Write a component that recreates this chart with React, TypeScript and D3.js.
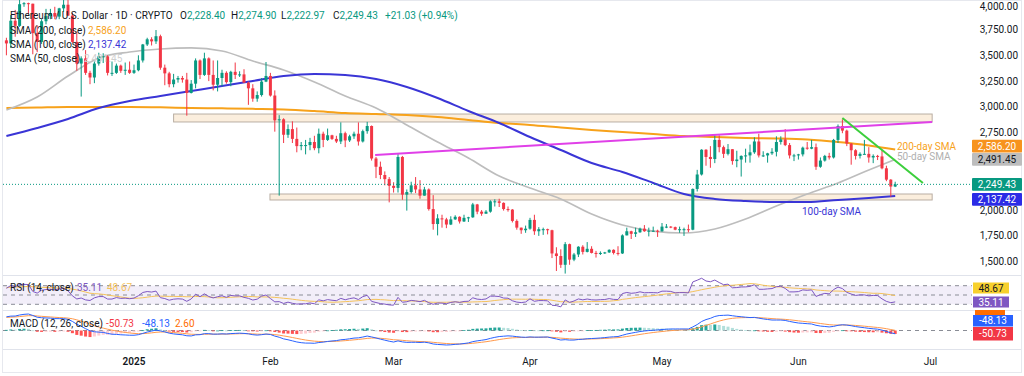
import React from 'react';
import * as d3 from 'd3';

// ---------- DATA ----------
const START = Date.UTC(2024, 11, 3); // first candle: 3 Dec 2024
const DAY = 86400000;

// [open, high, low, close]
const dec2024 = [
  [3645,3670,3500,3615],[3615,3890,3570,3835],[3835,3940,3680,3785],[3785,4085,3775,3995],
  [3995,4015,3970,4005],[4005,4010,3900,4000],[4000,4000,3510,3715],[3715,3790,3530,3630],
  [3630,3850,3610,3830],[3830,3950,3800,3880],[3880,3950,3850,3910],[3910,3970,3850,3875],
  [3875,3960,3850,3955],[3955,4100,3920,3990],[3990,4110,3880,3885],[3885,3910,3620,3630],
  [3630,3730,3350,3420],[3420,3490,3100,3470],[3470,3550,3310,3330],[3330,3350,3220,3285],
  [3285,3440,3230,3420],[3420,3525,3400,3490],[3490,3520,3425,3490],[3490,3500,3305,3330],
  [3330,3440,3300,3330],[3330,3420,3320,3400],[3400,3410,3330,3350],[3350,3430,3310,3360],
  [3360,3440,3320,3330],
];
const jan2025 = [
  [3330,3410,3320,3355],[3355,3500,3345,3450],[3450,3610,3430,3605],[3605,3670,3590,3655],
  [3655,3675,3595,3635],[3635,3745,3610,3685],[3685,3700,3360,3380],[3380,3410,3210,3325],
  [3325,3340,3190,3220],[3220,3320,3190,3265],[3265,3300,3235,3280],[3280,3300,3235,3265],
  [3265,3330,2915,3135],[3135,3260,3130,3225],[3225,3470,3180,3450],[3450,3460,3270,3310],
  [3310,3525,3300,3470],[3470,3480,3250,3310],[3310,3450,3160,3215],[3215,3450,3150,3280],
  [3280,3360,3200,3330],[3330,3345,3225,3240],[3240,3350,3200,3340],[3340,3430,3270,3310],
  [3310,3345,3290,3315],[3315,3365,3235,3235],[3235,3245,3020,3180],[3180,3220,3050,3080],
  [3080,3150,3050,3115],[3115,3280,3100,3245],[3245,3435,3240,3300],
];
const feb2025 = [
  [3300,3330,3100,3110],[3110,3160,2760,2870],[2870,2920,2140,2880],[2880,2890,2650,2730],
  [2730,2830,2700,2785],[2785,2860,2650,2690],[2690,2800,2560,2620],[2620,2660,2580,2630],
  [2630,2680,2540,2630],[2630,2700,2580,2660],[2660,2720,2580,2600],[2600,2790,2550,2740],
  [2740,2760,2610,2680],[2680,2790,2670,2725],[2725,2730,2680,2690],[2690,2720,2650,2665],
  [2665,2850,2640,2745],[2745,2760,2610,2675],[2675,2730,2660,2715],[2715,2760,2690,2740],
  [2740,2850,2625,2665],[2665,2780,2655,2765],[2765,2855,2740,2815],[2815,2820,2480,2500],
  [2500,2515,2310,2420],[2420,2470,2300,2340],[2340,2375,2240,2300],[2300,2320,2075,2235],
];
const mar2025 = [
  [2235,2270,2170,2215],[2215,2550,2170,2515],[2515,2525,2100,2150],[2150,2200,1995,2175],
  [2175,2275,2160,2240],[2240,2320,2165,2200],[2200,2290,2110,2140],[2140,2225,2140,2200],
  [2200,2210,1995,2010],[2010,2145,1810,1865],[1865,1960,1755,1920],[1920,1955,1830,1910],
  [1910,1925,1825,1860],[1860,1940,1855,1910],[1910,1950,1905,1935],[1935,1940,1870,1890],
  [1890,1955,1885,1925],[1925,1935,1885,1930],[1930,2070,1925,2055],[2055,2060,1960,1985],
  [1985,2000,1945,1965],[1965,2000,1965,1985],[1985,2095,1975,2085],[2085,2105,2035,2085],
  [2085,2110,2030,2070],[2070,2075,1995,2010],[2010,2035,1985,2005],[2005,2010,1880,1895],
  [1895,1910,1810,1830],[1830,1830,1770,1805],[1805,1850,1780,1820],
];
const apr2025 = [
  [1820,1925,1810,1905],[1905,1955,1760,1795],[1795,1835,1750,1815],[1815,1830,1760,1815],
  [1815,1820,1765,1805],[1805,1810,1535,1580],[1580,1640,1410,1555],[1555,1620,1440,1470],
  [1470,1690,1385,1670],[1670,1675,1470,1520],[1520,1585,1505,1570],[1570,1650,1545,1645],
  [1645,1660,1570,1595],[1595,1690,1590,1625],[1625,1650,1580,1585],[1585,1605,1540,1575],
  [1575,1600,1565,1585],[1585,1595,1575,1590],[1590,1620,1585,1615],[1615,1620,1570,1585],
  [1585,1650,1560,1580],[1580,1765,1575,1755],[1755,1830,1755,1795],[1795,1800,1720,1770],
  [1770,1830,1740,1785],[1785,1830,1780,1820],[1820,1855,1790,1795],[1795,1830,1745,1800],
  [1800,1840,1790,1800],[1800,1810,1740,1795],
];
const may2025 = [
  [1795,1875,1790,1840],[1840,1865,1825,1840],[1840,1845,1825,1835],[1835,1840,1805,1810],
  [1810,1840,1780,1815],[1815,1830,1750,1815],[1815,1860,1785,1810],[1810,2210,1805,2205],
  [2205,2390,2180,2345],[2345,2590,2335,2585],[2585,2590,2430,2515],[2515,2620,2410,2495],
  [2495,2735,2455,2680],[2680,2725,2560,2610],[2610,2625,2505,2545],[2545,2640,2530,2590],
  [2590,2590,2440,2475],[2475,2575,2415,2490],[2490,2530,2325,2525],[2525,2595,2460,2530],
  [2530,2635,2460,2560],[2560,2705,2545,2665],[2665,2740,2510,2530],[2530,2570,2515,2530],
  [2530,2555,2460,2550],[2550,2600,2535,2565],[2565,2715,2520,2660],[2660,2715,2635,2685],
  [2685,2785,2620,2630],[2630,2650,2500,2530],[2530,2545,2475,2530],
];
const jun2025 = [
  [2530,2545,2490,2540],[2540,2615,2520,2605],[2605,2660,2585,2595],[2595,2680,2590,2610],
  [2610,2645,2390,2420],[2420,2510,2410,2480],[2480,2535,2470,2525],[2525,2555,2490,2510],
  [2510,2690,2500,2680],[2680,2830,2650,2815],[2815,2880,2745,2770],[2770,2780,2620,2645],
  [2645,2650,2440,2580],[2580,2590,2490,2525],[2525,2560,2500,2545],[2545,2680,2540,2545],
  [2545,2610,2460,2510],[2510,2540,2455,2525],[2525,2535,2485,2520],[2520,2580,2395,2405],
  [2405,2430,2280,2295],[2295,2300,2130,2228.4],[2228.4,2274.9,2222.97,2249.43],
];

// closes before the visible window (15 Oct – 2 Dec 2024), used only to warm up RSI / MACD
const warmupCloses = [
  2610,2610,2605,2645,2645,2750,2665,2620,2525,2535,2440,2480,2510,2570,2640,2660,2515,
  2515,2490,2455,2400,2420,2720,2895,2960,3125,3180,3370,3245,3185,3060,3090,3130,3075,
  3205,3105,3070,3355,3330,3395,3360,3415,3325,3655,3585,3595,3705,3710,3645,
];

const smaSampleIdx = [0,7,14,21,28,35,42,49,56,63,70,77,84,91,98,105,112,119,126,133,140,147,154,161,168,175,182,189,196,202];
const sma50 = [2970,3096,3299,3474,3532,3561,3571,3542,3445,3358,3242,3106,2989,2825,2660,2505,2330,2214,2108,1962,1856,1797,1778,1817,1914,2040,2156,2263,2389,2491.45];
const sma100 = [2718,2796,2883,2989,3057,3106,3154,3202,3251,3299,3319,3309,3270,3193,3086,2960,2844,2708,2582,2456,2369,2263,2156,2108,2088,2078,2078,2098,2117,2137.42];
const sma200 = [2989,2994,2999,2999,2999,2996,2989,2986,2981,2975,2960,2941,2931,2921,2902,2873,2844,2825,2800,2776,2757,2737,2718,2708,2699,2694,2684,2660,2626,2586.2];

const priceTicks = [1500,1750,2000,2250,2500,2750,3000,3250,3500,3750,4000];
const monthLabels = ['2025','Feb','Mar','Apr','May','Jun','Jul'];

// drawn zones [startIdx, endIdx, lowPrice, highPrice]
const zones = [[38, 210.4, 2854, 2931],[59.9, 210.4, 2098, 2156]];
// trend lines [idx1, price1, idx2, price2, color]
const trendLines: [number, number, number, number, string][] = [
  [83.8, 2534, 210.4, 2854, '#e040e8'],
  [190, 2892, 208.3, 2263, '#3ccf3c'],
];

const legendOHLC = { o: 2228.40, h: 2274.90, l: 2222.97, c: 2249.43, chg: 21.03, pct: 0.94 };
const rsiLegend = { rsi: 35.11, ma: 48.67 };
const macdLegend = { a: -50.73, b: -48.13, c: 2.60 };

// ---------- HELPERS ----------
const candles = [...dec2024, ...jan2025, ...feb2025, ...mar2025, ...apr2025, ...may2025, ...jun2025];
const N = candles.length;
const closes = candles.map(c => c[3]);

function rsiCalc(v: number[], n: number) {
  const out = new Array(v.length).fill(NaN);
  let g = 0, l = 0;
  for (let i = 1; i <= n; i++) { const ch = v[i] - v[i - 1]; if (ch > 0) g += ch; else l -= ch; }
  g /= n; l /= n; out[n] = 100 - 100 / (1 + g / l);
  for (let i = n + 1; i < v.length; i++) {
    const ch = v[i] - v[i - 1];
    g = (g * (n - 1) + Math.max(ch, 0)) / n;
    l = (l * (n - 1) + Math.max(-ch, 0)) / n;
    out[i] = l === 0 ? 100 : 100 - 100 / (1 + g / l);
  }
  return out;
}
function smaCalc(v: number[], n: number) {
  return v.map((_, i) => (i < n - 1 || v.slice(i - n + 1, i + 1).some(isNaN)) ? NaN : d3.mean(v.slice(i - n + 1, i + 1))!);
}
function emaCalc(v: number[], n: number) {
  const k = 2 / (n + 1); const out: number[] = []; let e = v[0];
  v.forEach((x, i) => { e = i === 0 ? x : x * k + e * (1 - k); out.push(e); });
  return out;
}

const all = [...warmupCloses, ...closes];
const W = warmupCloses.length;
const rsiAll = rsiCalc(all, 14);
const rsiMaAll = smaCalc(rsiAll, 14);
const ema12 = emaCalc(all, 12), ema26 = emaCalc(all, 26);
const macdAll = ema12.map((v, i) => v - ema26[i]);
const sigAll = emaCalc(macdAll, 9);
const rsiV = rsiAll.slice(W), rsiMaV = rsiMaAll.slice(W);
const macdV = macdAll.slice(W), sigV = sigAll.slice(W);
const histV = macdV.map((v, i) => v - sigV[i]);

const FONT = 'Roboto, "Noto Sans", sans-serif';
const TEAL = '#089981', RED = '#f23645';

export default function App() {
  const x = d3.scaleLinear().domain([0, N - 1]).range([6.4, 895.2]);
  const y = d3.scaleLinear().domain([1500, 4000]).range([261.7, 3.7]);
  const yR = d3.scaleLinear().domain([30, 70]).range([304.3, 285.7]);
  const mExt = d3.extent([...macdV, ...sigV, ...histV]) as [number, number];
  const yM = d3.scaleLinear().domain(mExt).range([345, 314]);
  const dateToIdx = (d: Date) => (d.getTime() - START) / DAY;
  const months = d3.utcMonth.range(new Date(Date.UTC(2025, 0, 1)), new Date(Date.UTC(2025, 7, 1)));

  const smaLine = (vals: number[]) => d3.line<number>()
    .x((_, i) => x(smaSampleIdx[i])).y(v => y(v)).curve(d3.curveMonotoneX)(vals)!;
  const rsiLine = (vals: number[]) => d3.line<number>().defined(v => !isNaN(v))
    .x((_, i) => x(i)).y(v => yR(v))(vals)!;
  const macdLine = (vals: number[]) => d3.line<number>().x((_, i) => x(i)).y(v => yM(v))(vals)!;

  const lastClose = closes[N - 1];
  const axisBoxes = [
    { v: sma200[sma200.length - 1], fill: '#f7931e', tc: '#fff', dy: -3.5 },
    { v: sma50[sma50.length - 1], fill: '#bdbdbd', tc: '#131722', dy: 0 },
    { v: lastClose, fill: TEAL, tc: '#fff', dy: 0 },
    { v: sma100[sma100.length - 1], fill: '#2b2be6', tc: '#fff', dy: 3.5 },
  ];
  const fmt = d3.format(',.2f');

  return (
    <svg width={1024} height={376} style={{ position: 'absolute', left: 0, top: 0, background: '#fff' }} fontFamily={FONT}>
      <defs>
        <clipPath id="main"><rect x={3} y={0} width={969} height={275} /></clipPath>
        <clipPath id="rsi"><rect x={3} y={276} width={969} height={34} /></clipPath>
        <clipPath id="macd"><rect x={3} y={311} width={969} height={38} /></clipPath>
      </defs>

      {/* frame and separators */}
      <rect x={2.5} y={0.5} width={1019} height={372} fill="none" stroke="#e6e8ee" />
      <line x1={3} x2={1021} y1={275.5} y2={275.5} stroke="#e0e3eb" />
      <line x1={3} x2={1021} y1={310.5} y2={310.5} stroke="#e0e3eb" />
      <line x1={3} x2={1021} y1={349.5} y2={349.5} stroke="#e0e3eb" />

      {/* ------- main pane ------- */}
      <g clipPath="url(#main)">
        {zones.map((z, i) => (
          <rect key={i} x={x(z[0])} y={y(z[3])} width={x(z[1]) - x(z[0])} height={y(z[2]) - y(z[3])}
            fill="#fbeedd" stroke="#b9aea3" strokeWidth={1} />
        ))}
        <path d={smaLine(sma200)} fill="none" stroke="#f7a21b" strokeWidth={2} />
        <path d={smaLine(sma50)} fill="none" stroke="#bdbdbd" strokeWidth={1.7} />
        <path d={smaLine(sma100)} fill="none" stroke="#3a35d6" strokeWidth={2} />
        {candles.map((c, i) => {
          const [o, h, l, cl] = c; const col = cl >= o ? TEAL : RED;
          const top = y(Math.max(o, cl)), bot = y(Math.min(o, cl));
          return (
            <g key={i}>
              <line x1={x(i)} x2={x(i)} y1={y(h)} y2={y(l)} stroke={col} strokeWidth={1} />
              <rect x={x(i) - 1.5} y={top} width={3} height={Math.max(1, bot - top)} fill={col} />
            </g>
          );
        })}
        {trendLines.map((t, i) => (
          <line key={i} x1={x(t[0])} y1={y(t[1])} x2={x(t[2])} y2={y(t[3])} stroke={t[4]} strokeWidth={2} />
        ))}
        <line x1={3} x2={972} y1={y(lastClose)} y2={y(lastClose)} stroke={TEAL} strokeDasharray="1,2" strokeWidth={1} />
      </g>
      <text x={897} y={146} fontSize={10} fill="#f7a21b" dominantBaseline="central">200-day SMA</text>
      <text x={897} y={156.5} fontSize={10} fill="#b0b0b0" dominantBaseline="central">50-day SMA</text>
      <text x={802} y={211} fontSize={10} fill="#3a35d6" dominantBaseline="central">100-day SMA</text>

      {/* legend */}
      <g fontSize={10} dominantBaseline="central">
        <text x={10} y={15} fill="#131722">Ethereum / U.S. Dollar · 1D · CRYPTO</text>
        <text x={180} y={15} fill="#131722">O<tspan fill={TEAL}>{fmt(legendOHLC.o)}</tspan></text>
        <text x={231} y={15} fill="#131722">H<tspan fill={TEAL}>{fmt(legendOHLC.h)}</tspan></text>
        <text x={281} y={15} fill="#131722">L<tspan fill={TEAL}>{fmt(legendOHLC.l)}</tspan></text>
        <text x={333} y={15} fill="#131722">C<tspan fill={TEAL}>{fmt(legendOHLC.c)}</tspan></text>
        <text x={385} y={15} fill={TEAL}>{`+${legendOHLC.chg.toFixed(2)} (+${legendOHLC.pct.toFixed(2)}%)`}</text>
        <text x={10} y={30} fill="#131722">SMA (200, close)</text>
        <text x={88} y={30} fill="#f7a21b">{fmt(sma200[sma200.length - 1])}</text>
        <text x={10} y={44} fill="#131722">SMA (100, close)</text>
        <text x={88} y={44} fill="#3a35d6">{fmt(sma100[sma100.length - 1])}</text>
        <text x={10} y={58} fill="#131722">SMA (50, close)</text>
        <text x={84} y={58} fill="#cfcfcf">{fmt(sma50[sma50.length - 1])}</text>
      </g>

      {/* price axis */}
      {priceTicks.map(p => (
        <text key={p} x={1018} y={Math.max(y(p), 6)} fontSize={10} textAnchor="end" dominantBaseline="central" fill="#131722">{fmt(p)}</text>
      ))}
      {axisBoxes.map((b, i) => (
        <g key={i}>
          <rect x={972} y={y(b.v) + b.dy - 6.3} width={50} height={12.6} fill={b.fill} rx={1} />
          <text x={997} y={y(b.v) + b.dy} fontSize={10} textAnchor="middle" dominantBaseline="central" fill={b.tc}>{fmt(b.v)}</text>
        </g>
      ))}

      {/* ------- RSI pane ------- */}
      <g clipPath="url(#rsi)">
        <rect x={3} y={yR(70)} width={969} height={yR(30) - yR(70)} fill="#7e57c2" fillOpacity={0.1} />
        {[70, 50, 30].map(v => (
          <line key={v} x1={3} x2={972} y1={yR(v)} y2={yR(v)} stroke="#8a8d96" strokeDasharray="4,4" strokeWidth={1} />
        ))}
        <path d={rsiLine(rsiMaV)} fill="none" stroke="#f5c35b" strokeWidth={1} />
        <path d={rsiLine(rsiV)} fill="none" stroke="#7e57c2" strokeWidth={1} />
      </g>
      <g fontSize={10} dominantBaseline="central">
        <text x={10} y={287} fill="#131722">RSI (14, close)</text>
        <text x={77} y={287} fill="#7e57c2">{rsiLegend.rsi.toFixed(2)}</text>
        <text x={107} y={287} fill="#f5c35b">{rsiLegend.ma.toFixed(2)}</text>
      </g>
      <rect x={973} y={282.5} width={36} height={11} fill="#f7d02c" />
      <text x={991} y={288} fontSize={10} textAnchor="middle" dominantBaseline="central" fill="#131722">{rsiLegend.ma.toFixed(2)}</text>
      <rect x={973} y={296.5} width={36} height={11} fill="#7e57c2" />
      <text x={991} y={302} fontSize={10} textAnchor="middle" dominantBaseline="central" fill="#fff">{rsiLegend.rsi.toFixed(2)}</text>

      {/* ------- MACD pane ------- */}
      <g clipPath="url(#macd)">
        <line x1={3} x2={972} y1={yM(0)} y2={yM(0)} stroke="#8a8d96" strokeDasharray="4,4" strokeWidth={1} />
        {histV.map((h, i) => {
          const prev = i > 0 ? histV[i - 1] : h;
          const col = h >= 0 ? (h >= prev ? '#26a69a' : '#b2dfdb') : (h <= prev ? '#ff5252' : '#ffcdd2');
          const y0 = yM(0), y1 = yM(h);
          return <rect key={i} x={x(i) - 1.5} y={Math.min(y0, y1)} width={3} height={Math.max(0.8, Math.abs(y1 - y0))} fill={col} />;
        })}
        <path d={macdLine(sigV)} fill="none" stroke="#ff9a4d" strokeWidth={1} />
        <path d={macdLine(macdV)} fill="none" stroke="#2962ff" strokeWidth={1} />
      </g>
      <g fontSize={10} dominantBaseline="central">
        <text x={10} y={323} fill="#131722">MACD (12, 26, close)</text>
        <text x={106} y={323} fill="#f23645">{macdLegend.a.toFixed(2)}</text>
        <text x={142} y={323} fill="#2962ff">{macdLegend.b.toFixed(2)}</text>
        <text x={175} y={323} fill="#ff6d00">{macdLegend.c.toFixed(2)}</text>
      </g>
      <rect x={975} y={310} width={30} height={6} fill="#ff6d00" />
      <rect x={973} y={315} width={40} height={11.5} fill="#2962ff" />
      <text x={993} y={320.8} fontSize={10} textAnchor="middle" dominantBaseline="central" fill="#fff">{macdLegend.b.toFixed(2)}</text>
      <rect x={973} y={327} width={40} height={13.5} fill="#f23645" />
      <text x={993} y={333.8} fontSize={10} textAnchor="middle" dominantBaseline="central" fill="#fff">{macdLegend.a.toFixed(2)}</text>

      {/* time axis */}
      {months.map((m, i) => (
        <text key={i} x={x(dateToIdx(m))} y={361} fontSize={10} textAnchor="middle" dominantBaseline="central"
          fill="#131722" fontWeight={i === 0 ? 600 : 400}>{monthLabels[i]}</text>
      ))}
    </svg>
  );
}
